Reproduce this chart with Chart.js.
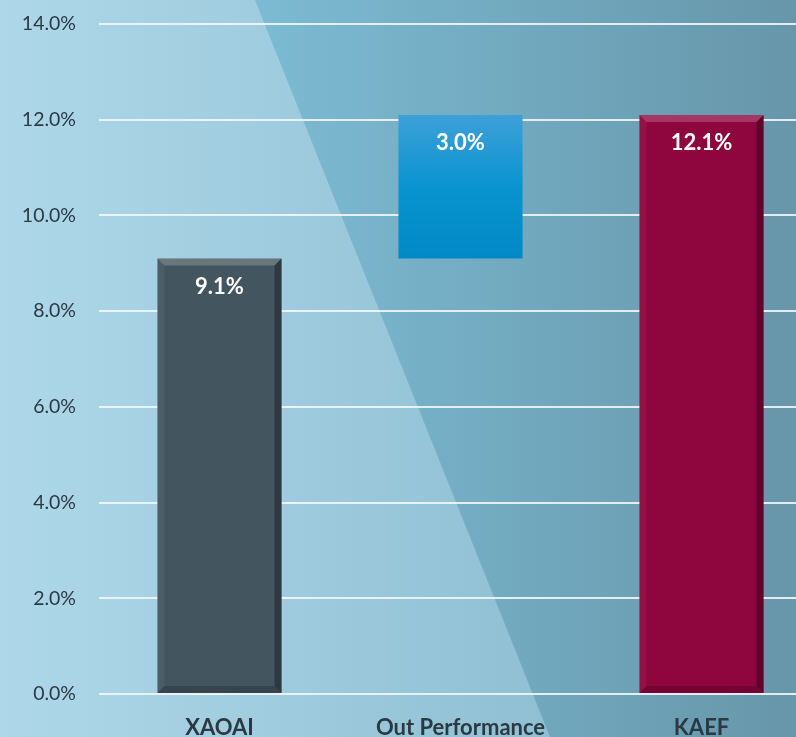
<!DOCTYPE html>
<html>
<head>
    <title>Out Performance</title>
    <script src="https://cdn.jsdelivr.net/npm/chart.js"></script>
    <style>
        html, body { margin: 0; padding: 0; overflow: hidden; width: 796px; height: 737px; }
        #wrap { position: absolute; left: 0; top: 0; width: 822px; height: 737px; }
    </style>
</head>
<body>
    <div id="wrap"><canvas id="perfChart" width="822" height="737"></canvas></div>
    <script>
        const categories = ['XAOAI', 'Out Performance', 'KAEF'];
        const barStarts = [0, 9.1, 0];
        const barEnds = [9.1, 12.1, 12.1];
        const yTicks = [0, 2, 4, 6, 8, 10, 12, 14];

        const fontFamily = 'Lato, "Open Sans", sans-serif';

        // soft blue backdrop with a darker diagonal band
        const backdrop = {
            id: 'backdrop',
            beforeDraw(chart) {
                const ctx = chart.ctx;
                const w = chart.width, h = chart.height;
                ctx.save();
                let g = ctx.createLinearGradient(0, 0, 600, 0);
                g.addColorStop(0, '#aed8e9');
                g.addColorStop(1, '#8dbdd1');
                ctx.fillStyle = g;
                ctx.fillRect(0, 0, w, h);
                g = ctx.createLinearGradient(255, 0, 796, 0);
                g.addColorStop(0, '#7cbbd3');
                g.addColorStop(1, '#6796aa');
                ctx.fillStyle = g;
                ctx.beginPath();
                ctx.moveTo(255, 0);
                ctx.lineTo(w, 0);
                ctx.lineTo(w, h);
                ctx.lineTo(550, h);
                ctx.closePath();
                ctx.fill();
                ctx.restore();
            }
        };

        // bevel edges and the value labels
        const barDecor = {
            id: 'barDecor',
            afterDatasetsDraw(chart) {
                const ctx = chart.ctx;
                const meta = chart.getDatasetMeta(0);
                meta.data.forEach((bar, i) => {
                    const left = bar.x - bar.width / 2, right = bar.x + bar.width / 2;
                    const top = Math.min(bar.y, bar.base), bottom = Math.max(bar.y, bar.base);
                    ctx.save();
                    if (i !== 1) {
                        const b = 7;
                        ctx.fillStyle = 'rgba(255,255,255,0.2)';
                        ctx.beginPath();
                        ctx.moveTo(left, top); ctx.lineTo(right, top);
                        ctx.lineTo(right - b, top + b); ctx.lineTo(left + b, top + b);
                        ctx.closePath(); ctx.fill();
                        ctx.fillStyle = 'rgba(0,0,0,0.33)';
                        ctx.beginPath();
                        ctx.moveTo(right, top); ctx.lineTo(right, bottom);
                        ctx.lineTo(right - b, bottom - b); ctx.lineTo(right - b, top + b);
                        ctx.closePath(); ctx.fill();
                        ctx.fillStyle = 'rgba(0,0,0,0.18)';
                        ctx.beginPath();
                        ctx.moveTo(left, bottom); ctx.lineTo(right, bottom);
                        ctx.lineTo(right - b, bottom - b); ctx.lineTo(left + b, bottom - b);
                        ctx.closePath(); ctx.fill();
                        ctx.fillStyle = 'rgba(255,255,255,0.05)';
                        ctx.beginPath();
                        ctx.moveTo(left, top); ctx.lineTo(left, bottom);
                        ctx.lineTo(left + b, bottom - b); ctx.lineTo(left + b, top + b);
                        ctx.closePath(); ctx.fill();
                    }
                    const val = barEnds[i] - barStarts[i];
                    ctx.fillStyle = '#ffffff';
                    ctx.font = 'bold 22px ' + fontFamily;
                    ctx.textAlign = 'center';
                    ctx.textBaseline = 'middle';
                    ctx.fillText(val.toFixed(1) + '%', bar.x, top + 28);
                    ctx.restore();
                });
            }
        };

        const ctx = document.getElementById('perfChart').getContext('2d');
        new Chart(ctx, {
            type: 'bar',
            data: {
                labels: categories,
                datasets: [{
                    data: barStarts.map((s, i) => [s, barEnds[i]]),
                    backgroundColor: (c) => {
                        const i = c.dataIndex;
                        if (i === 0) return '#43555e';
                        if (i === 2) return '#8e063d';
                        const area = c.chart.chartArea;
                        if (!area) return '#1b95d0';
                        const y = c.chart.scales.y;
                        const g = c.chart.ctx.createLinearGradient(0, y.getPixelForValue(barEnds[1]), 0, y.getPixelForValue(barStarts[1]));
                        g.addColorStop(0, '#3ea0d8');
                        g.addColorStop(0.5, '#0994d0');
                        g.addColorStop(1, '#0089c6');
                        return g;
                    },
                    borderWidth: 0,
                    borderSkipped: false,
                    barPercentage: 0.515,
                    categoryPercentage: 1
                }]
            },
            options: {
                responsive: false,
                animation: false,
                layout: { padding: { top: 24, right: 0, left: 0, bottom: 0 } },
                plugins: { legend: { display: false }, tooltip: { enabled: false } },
                scales: {
                    x: {
                        grid: { display: false },
                        border: { display: false },
                        afterFit: (s) => { s.height = 43; },
                        ticks: {
                            color: '#2b3942',
                            font: { family: fontFamily, size: 22, weight: 'bold' },
                            padding: 13
                        }
                    },
                    y: {
                        min: yTicks[0],
                        max: yTicks[yTicks.length - 1],
                        afterBuildTicks: (s) => { s.ticks = yTicks.map(v => ({ value: v })); },
                        afterFit: (s) => { s.width = 99; s.paddingTop = 0; s.paddingBottom = 0; },
                        border: { display: false },
                        grid: { color: 'rgba(240,246,250,0.9)', lineWidth: 2, drawTicks: false },
                        ticks: {
                            color: '#2b3942',
                            font: { family: fontFamily, size: 19.5 },
                            padding: 23,
                            callback: (v) => v.toFixed(1) + '%'
                        }
                    }
                }
            },
            plugins: [backdrop, barDecor]
        });
    </script>
</body>
</html>
